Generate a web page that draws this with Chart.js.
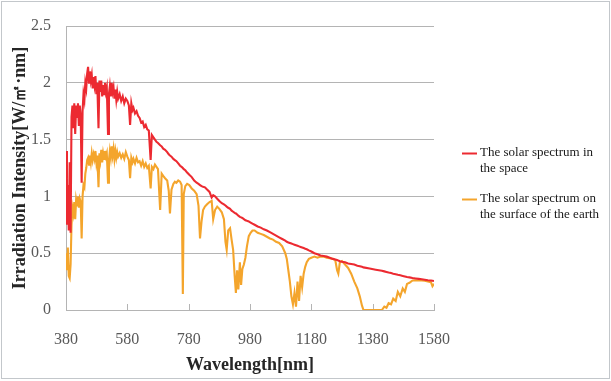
<!DOCTYPE html>
<html><head><meta charset="utf-8">
<script src="https://cdn.jsdelivr.net/npm/chart.js@4.4.1/dist/chart.umd.min.js"></script>
<style>html,body{margin:0;padding:0;background:#fff;}#wrap{width:611px;height:381px;position:relative;}</style>
</head><body><div id="wrap"><canvas id="c" width="611" height="381"></canvas></div>
<script>
const wavelengths = [
380,383,386,389,392,395,398,401,404,407,
410,413,416,419,422,425,428,431,434,437,
440,443,446,449,452,455,458,461,464,467,
470,473,476,479,482,486,489,492,495,498,
501,504,507,510,513,517,520,523,526,529,
532,535,538,541,544,547,550,555,560,565,
570,575,580,585,589,593,597,600,605,610,
615,620,625,630,635,640,645,650,656,660,
665,670,675,680,687,692,697,703,710,715,
719,724,730,735,740,746,752,757,761,764,
769,775,782,790,798,806,812,817,822,827,
833,840,848,855,860,866,873,880,888,895,
900,904,909,915,920,925,930,934,938,942,
947,951,955,960,965,970,976,982,988,995,
1005,1015,1025,1035,1045,1055,1065,1075,1085,1095,
1100,1105,1110,1115,1120,1125,1130,1135,1140,1145,
1150,1155,1160,1165,1172,1180,1190,1200,1210,1220,
1230,1240,1250,1258,1264,1268,1273,1280,1290,1300,
1310,1320,1330,1338,1345,1350,1370,1390,1410,1418,
1425,1432,1440,1447,1455,1462,1470,1478,1485,1492,
1500,1510,1520,1530,1540,1550,1560,1570,1575,1580
];
const spaceSpectrum = [
1.40,0.75,1.10,0.70,1.30,0.68,1.70,1.80,1.60,1.82,
1.55,1.80,1.70,1.82,1.62,1.80,1.70,1.12,1.75,1.90,
1.85,2.00,1.95,2.08,2.14,2.00,2.10,2.02,2.07,1.95,
2.05,1.98,2.06,1.90,2.00,1.60,2.02,1.92,2.02,1.88,
1.98,1.90,2.00,1.92,1.96,1.55,1.90,1.97,1.88,2.00,
1.92,1.96,1.86,1.94,1.85,1.92,1.86,1.90,1.84,1.88,
1.82,1.86,1.84,1.80,1.63,1.82,1.76,1.78,1.73,1.75,
1.71,1.69,1.65,1.66,1.61,1.63,1.59,1.58,1.32,1.54,
1.52,1.50,1.48,1.47,1.45,1.44,1.42,1.41,1.39,1.37,
1.36,1.35,1.33,1.32,1.31,1.29,1.27,1.26,1.25,1.24,
1.23,1.21,1.19,1.17,1.14,1.12,1.11,1.10,1.09,1.085,
1.08,1.06,1.04,0.99,1.01,1.00,0.98,0.96,0.94,0.93,
0.92,0.91,0.90,0.89,0.875,0.865,0.855,0.85,0.84,0.83,
0.82,0.815,0.81,0.80,0.79,0.785,0.78,0.77,0.76,0.75,
0.735,0.725,0.71,0.70,0.685,0.67,0.655,0.64,0.625,0.61,
0.60,0.595,0.59,0.585,0.58,0.575,0.57,0.565,0.56,0.555,
0.55,0.545,0.54,0.535,0.525,0.515,0.50,0.49,0.48,0.475,
0.47,0.46,0.45,0.445,0.44,0.435,0.43,0.425,0.42,0.41,
0.405,0.40,0.39,0.385,0.38,0.375,0.365,0.355,0.345,0.34,
0.335,0.33,0.325,0.32,0.315,0.31,0.305,0.30,0.295,0.29,
0.287,0.282,0.278,0.274,0.27,0.266,0.262,0.26,0.258,0.255
];
const surfaceSpectrum = [
0.50,0.35,0.55,0.30,0.28,0.40,0.75,0.90,0.85,0.95,
0.80,0.97,0.92,1.00,0.90,0.98,0.95,0.63,1.00,1.10,
1.08,1.20,1.25,1.32,1.34,1.28,1.36,1.30,1.38,1.32,
1.37,1.33,1.40,1.30,1.36,1.08,1.38,1.32,1.41,1.30,
1.38,1.33,1.40,1.35,1.38,1.12,1.32,1.40,1.34,1.44,
1.36,1.42,1.33,1.40,1.34,1.39,1.35,1.38,1.34,1.37,
1.33,1.39,1.35,1.32,1.16,1.34,1.30,1.33,1.29,1.34,
1.30,1.31,1.27,1.31,1.26,1.29,1.25,1.27,1.07,1.26,
1.24,1.28,1.26,1.24,0.88,1.20,1.18,1.16,1.14,1.05,
0.85,1.06,1.11,1.13,1.12,1.14,1.13,1.10,0.14,1.02,
1.09,1.11,1.10,1.07,1.05,1.02,0.92,0.63,0.78,0.88,
0.91,0.93,0.95,0.96,0.80,0.88,0.91,0.89,0.86,0.80,
0.60,0.53,0.70,0.72,0.62,0.53,0.30,0.15,0.35,0.18,
0.42,0.22,0.36,0.40,0.46,0.56,0.65,0.68,0.70,0.70,
0.68,0.67,0.66,0.645,0.63,0.62,0.60,0.59,0.56,0.50,
0.45,0.35,0.25,0.12,0.05,0.15,0.03,0.25,0.08,0.30,
0.20,0.32,0.38,0.42,0.45,0.46,0.47,0.46,0.47,0.47,
0.46,0.455,0.45,0.44,0.35,0.32,0.42,0.43,0.40,0.37,
0.32,0.25,0.19,0.12,0.04,0,0,0,0,0.03,
0.02,0.06,0.05,0.10,0.08,0.16,0.12,0.19,0.16,0.23,
0.24,0.26,0.262,0.26,0.26,0.258,0.25,0.245,0.21,0.23
];
const xTickValues = [380,580,780,980,1180,1380,1580];
const yTickValues = [0,0.5,1,1.5,2,2.5];
const seriesLabels = ["The solar spectrum in the space","The solar spectrum on the surface of the earth"];
const legendLines = [["The solar spectrum in","the space"],["The solar spectrum on","the surface of the earth"]];
const xTitle = "Wavelength[nm]";
const yTitle = "Irradiation Intensity[W/㎡·nm]";
const seriesColors = ["#ec2a31","#f4a52c"];

const serif = "'Liberation Serif','Times New Roman',serif";
const gridGray = "#b4b4b4";

const toPoints = vals => wavelengths.map((w,i)=>({x:w,y:vals[i]}));

const extras = {
  id:'extras',
  beforeDraw(chart){
    const ctx=chart.ctx; ctx.save(); ctx.fillStyle='#fff'; ctx.fillRect(0,0,chart.width,chart.height); ctx.restore();
  },
  beforeDatasetsDraw(chart){
    const ctx=chart.ctx, xs=chart.scales.x, area=chart.chartArea;
    ctx.save(); ctx.strokeStyle=gridGray; ctx.lineWidth=1;
    xTickValues.forEach(v=>{const px=Math.round(xs.getPixelForValue(v))+0.5;ctx.beginPath();ctx.moveTo(px,area.bottom);ctx.lineTo(px,area.bottom-6);ctx.stroke();});
    ctx.restore();
  },
  afterDraw(chart){
    const ctx=chart.ctx;
    ctx.save();
    const legendY=[153,199];
    chart.data.datasets.forEach((ds,i)=>{
      const y=legendY[i];
      ctx.strokeStyle=ds.borderColor; ctx.lineWidth=2;
      ctx.beginPath(); ctx.moveTo(462,y+0.5); ctx.lineTo(477,y+0.5); ctx.stroke();
      ctx.fillStyle='#1a1a1a'; ctx.font="13px "+serif; ctx.textBaseline='middle'; ctx.textAlign='left';
      legendLines[i].forEach((t,j)=>ctx.fillText(t,480,y+j*16));
    });
    ctx.strokeStyle='#c3c7cb'; ctx.lineWidth=1;
    ctx.strokeRect(1.5,1.5,608,377);
    ctx.restore();
  }
};

new Chart(document.getElementById('c'),{
  type:'line',
  data:{datasets:[
    {label:seriesLabels[0],data:toPoints(spaceSpectrum),borderColor:seriesColors[0],backgroundColor:seriesColors[0],borderWidth:2.1,pointRadius:0,tension:0,fill:false},
    {label:seriesLabels[1],data:toPoints(surfaceSpectrum),borderColor:seriesColors[1],backgroundColor:seriesColors[1],borderWidth:2.1,pointRadius:0,tension:0,fill:false}
  ]},
  options:{
    responsive:false,animation:false,devicePixelRatio:1,
    layout:{padding:{left:0,right:177,top:26,bottom:0}},
    plugins:{legend:{display:false},tooltip:{enabled:false}},
    scales:{
      x:{type:'linear',min:380,max:1580,
        afterBuildTicks:s=>{s.ticks=xTickValues.map(v=>({value:v}));},
        afterFit:s=>{s.height=71;},
        grid:{drawOnChartArea:false,drawTicks:false},
        border:{display:true,color:gridGray,width:1},
        ticks:{padding:20,color:'#595959',font:{family:serif,size:16},maxRotation:0,autoSkip:false,callback:v=>String(v)},
        title:{display:true,text:xTitle,color:'#262626',font:{family:serif,size:18,weight:'bold'},padding:{bottom:5}}
      },
      y:{min:0,max:2.5,
        afterBuildTicks:s=>{s.ticks=yTickValues.map(v=>({value:v}));},
        afterFit:s=>{s.width=66;},
        grid:{color:gridGray,drawTicks:false},
        border:{display:true,color:gridGray,width:1},
        ticks:{padding:15,color:'#595959',font:{family:serif,size:16},callback:v=>String(v)},
        title:{display:true,text:yTitle,color:'#262626',font:{family:serif,size:18,weight:'bold'},padding:{top:10}}
      }
    }
  },
  plugins:[extras]
});
</script></body></html>
